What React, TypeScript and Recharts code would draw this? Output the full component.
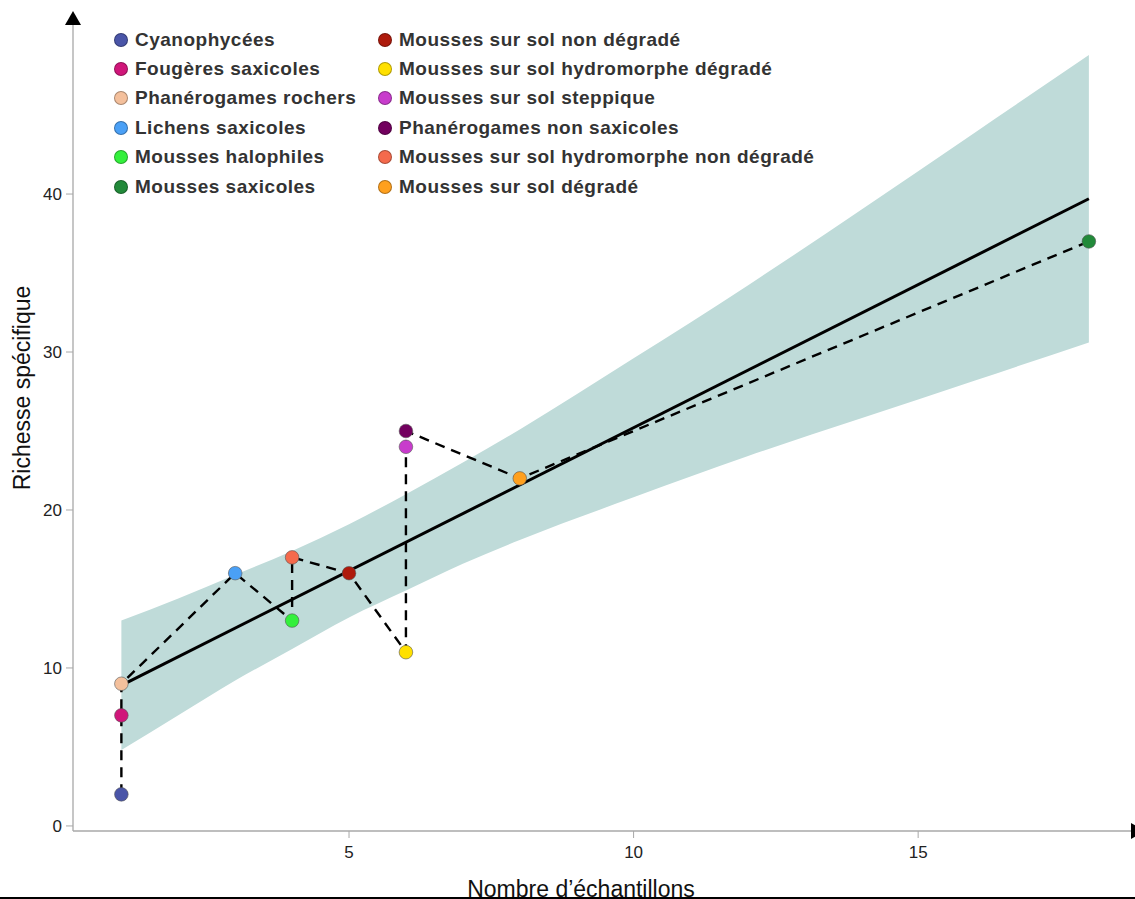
import { ComposedChart, Area, Line, Scatter, XAxis, YAxis } from 'recharts';

// groupes écologiques (ordre de la légende)
const groups = [
  'Cyanophycées',
  'Fougères saxicoles',
  'Phanérogames rochers',
  'Lichens saxicoles',
  'Mousses halophiles',
  'Mousses saxicoles',
  'Mousses sur sol non dégradé',
  'Mousses sur sol hydromorphe dégradé',
  'Mousses sur sol steppique',
  'Phanérogames non saxicoles',
  'Mousses sur sol hydromorphe non dégradé',
  'Mousses sur sol dégradé',
];
const sampleCounts = [1, 1, 1, 3, 4, 18, 5, 6, 6, 6, 4, 8];
const richness = [2, 7, 9, 16, 13, 37, 16, 11, 24, 25, 17, 22];
const groupColors = [
  '#4a55a8', '#d0167a', '#f4c09c', '#4aa0f6', '#33f03c', '#228a3a',
  '#ae1a0c', '#ffe000', '#c83ccc', '#72005e', '#f46a4c', '#ffa01e',
];

// droite de régression
const fitX = [1, 18];
const fitY = [8.9, 39.7];

// intervalle de confiance
const bandX = [1, 2, 3, 4, 5, 6, 7, 8, 10, 12, 14, 16, 18];
const bandLow = [4.8, 7.0, 9.2, 11.2, 13.2, 14.9, 16.6, 18.1, 20.8, 23.4, 25.8, 28.2, 30.6];
const bandHigh = [13.0, 14.4, 15.9, 17.4, 19.1, 21.0, 23.0, 25.1, 29.6, 34.2, 39.0, 43.9, 48.8];

const xTicks = [5, 10, 15];
const yTicks = [0, 10, 20, 30, 40];

const FONT = '"Liberation Sans", Arial, Helvetica, sans-serif';

export default function App() {
  const points = groups.map((g, i) => ({ name: g, x: sampleCounts[i], y: richness[i], color: groupColors[i] }));
  const pathData = [...points].sort((a, b) => a.x - b.x || a.y - b.y).map((p) => ({ x: p.x, y: p.y }));
  const fitData = fitX.map((x, i) => ({ x, y: fitY[i] }));
  const bandData = bandX.map((x, i) => ({ x, band: [bandLow[i], bandHigh[i]] }));

  const col1 = points.slice(0, 6);
  const col2 = points.slice(6);

  const legendCol = (items: typeof points, left: number) => (
    <div style={{ position: 'absolute', left, top: 25 }}>
      {items.map((p) => (
        <div key={p.name} style={{ display: 'flex', alignItems: 'center', height: 29.4 }}>
          <span style={{
            width: 12, height: 12, borderRadius: '50%', background: p.color,
            border: '1px solid rgba(0,0,0,0.3)', marginRight: 7, flex: 'none',
          }} />
          <span style={{ fontSize: 19, fontWeight: 700, letterSpacing: 0.5, color: '#333', whiteSpace: 'nowrap' }}>{p.name}</span>
        </div>
      ))}
    </div>
  );

  return (
    <div style={{ position: 'absolute', left: 0, top: 0, width: 1135, height: 899, overflow: 'hidden', background: '#fff', fontFamily: FONT }}>
      <ComposedChart width={1135} height={899} margin={{ top: 25, right: 4, bottom: 0, left: 0 }}>
        <defs>
          <marker id="arrowUp" markerUnits="userSpaceOnUse" markerWidth={18} markerHeight={16} refX={8} refY={14} orient="0" viewBox="0 0 18 16">
            <path d="M0,14 L8,0 L16,14 Z" fill="#000" />
          </marker>
          <marker id="arrowRight" markerUnits="userSpaceOnUse" markerWidth={16} markerHeight={18} refX={0} refY={8} orient="0" viewBox="0 0 16 18">
            <path d="M0,0 L14,8 L0,16 Z" fill="#000" />
          </marker>
        </defs>
        <XAxis type="number" dataKey="x" domain={[0.15, 18.74]} allowDataOverflow ticks={xTicks} height={68}
          tickSize={7} tickMargin={8} stroke="#a8a8a8"
          axisLine={{ stroke: '#a8a8a8', strokeWidth: 1.3, markerEnd: 'url(#arrowRight)' }}
          tickLine={{ stroke: '#a8a8a8' }}
          tick={{ fontSize: 17, fill: '#222' }}
          label={{ value: 'Nombre d’échantillons', position: 'insideBottom', offset: 2, dx: -21, fontSize: 23, fill: '#111' }} />
        <YAxis type="number" domain={[-0.32, 50.7]} allowDataOverflow ticks={yTicks} width={73}
          tickSize={7} tickMargin={4} stroke="#a8a8a8"
          axisLine={{ stroke: '#a8a8a8', strokeWidth: 1.3, markerStart: 'url(#arrowUp)' }}
          tickLine={{ stroke: '#a8a8a8' }}
          tick={{ fontSize: 17, fill: '#222' }}
          label={{ value: 'Richesse spécifique', angle: -90, position: 'insideLeft', offset: 22, dy: -40, fontSize: 23, fill: '#111', style: { textAnchor: 'middle' } }} />
        <Area data={bandData} dataKey="band" type="monotone" fill="#bfdbd9" fillOpacity={1} stroke="none" isAnimationActive={false} />
        <Line data={fitData} dataKey="y" type="linear" stroke="#000" strokeWidth={3} dot={false} isAnimationActive={false} />
        <Line data={pathData} dataKey="y" type="linear" stroke="#000" strokeWidth={2.4} strokeDasharray="10 7" dot={false} isAnimationActive={false} />
        {points.map((p) => (
          <Scatter key={p.name} name={p.name} data={[{ x: p.x, y: p.y }]} dataKey="y" isAnimationActive={false}
            shape={(s: any) => <circle cx={s.cx} cy={s.cy} r={6.8} fill={p.color} stroke="#555" strokeWidth={0.6} />} />
        ))}
      </ComposedChart>
      {legendCol(col1, 114)}
      {legendCol(col2, 378)}
      <div style={{ position: 'absolute', left: 0, top: 897, width: 1135, height: 2, background: '#000' }} />
    </div>
  );
}
